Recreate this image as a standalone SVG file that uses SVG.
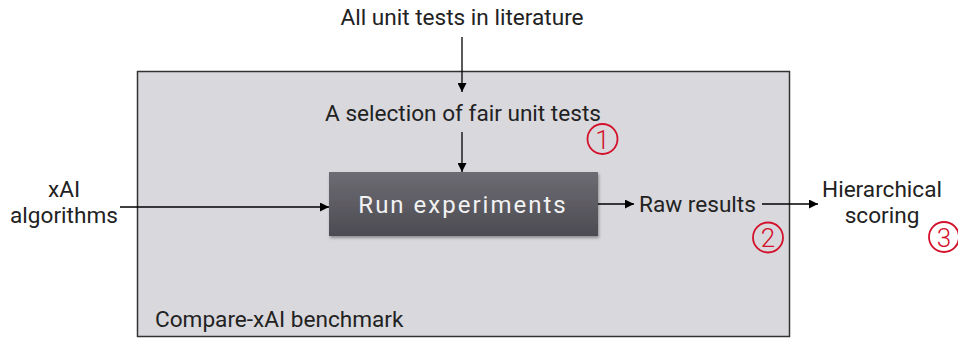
<svg xmlns="http://www.w3.org/2000/svg" width="958" height="339" viewBox="0 0 958 339">
<defs>
<marker id="ah" viewBox="0 0 10 10" refX="10" refY="5" markerWidth="9" markerHeight="9" markerUnits="userSpaceOnUse" orient="auto"><path d="M0,0 L10,5 L0,10 z" fill="#000"/></marker>
<linearGradient id="g" x1="0" y1="0" x2="0" y2="1"><stop offset="0" stop-color="#6d6c73"/><stop offset="1" stop-color="#4c4b52"/></linearGradient>
<filter id="sh" x="-5%" y="-10%" width="110%" height="125%"><feDropShadow dx="1" dy="2" stdDeviation="1.5" flood-color="#000" flood-opacity="0.35"/></filter>
</defs>
<style>
text{font-family:Roboto,"Liberation Sans",sans-serif;font-size:22.6px;fill:#222}
.c{text-anchor:middle}
.num{font-size:26px;font-weight:300;fill:#d3112b}
.circ{fill:none;stroke:#d3112b;stroke-width:1.8}
.ln{stroke:#000;stroke-width:1.3;fill:none;marker-end:url(#ah)}
</style>
<rect width="958" height="339" fill="#fff"/>
<g id="benchmark">
<rect x="137.5" y="71.5" width="652" height="265" fill="#d9d8dd" stroke="#333" stroke-width="1.5"/>
<text x="155" y="327">Compare-xAI benchmark</text>
</g>
<g id="all-tests"><text class="c" x="462" y="25">All unit tests in literature</text></g>
<g id="selection"><text class="c" x="463" y="121">A selection of fair unit tests</text></g>
<g id="run"><rect x="329" y="172" width="269" height="64" fill="url(#g)" filter="url(#sh)"/><text class="c" x="463" y="213" style="fill:#f2f2f2;letter-spacing:2px;font-size:24px">Run experiments</text></g>
<g id="xai"><text class="c" x="64" y="197">xAI</text><text class="c" x="64" y="223">algorithms</text></g>
<g id="raw"><text x="639" y="212">Raw results</text></g>
<g id="scoring"><text class="c" x="882" y="197">Hierarchical</text><text class="c" x="882" y="223">scoring</text></g>
<g id="labels">
<circle class="circ" cx="602.5" cy="139" r="15"/><text class="c num" x="602.5" y="148.5">1</text>
<circle class="circ" cx="768" cy="237.5" r="15"/><text class="c num" x="768" y="247">2</text>
<circle class="circ" cx="944" cy="237" r="15"/><text class="c num" x="944" y="246.5">3</text>
</g>
<g id="connectors">
<line class="ln" x1="462" y1="37" x2="462" y2="92"/>
<line class="ln" x1="462" y1="132" x2="462" y2="172"/>
<line class="ln" x1="120" y1="207" x2="329" y2="207"/>
<line class="ln" x1="598" y1="204" x2="634" y2="204"/>
<line class="ln" x1="762" y1="204" x2="818" y2="204"/>
</g>
</svg>
